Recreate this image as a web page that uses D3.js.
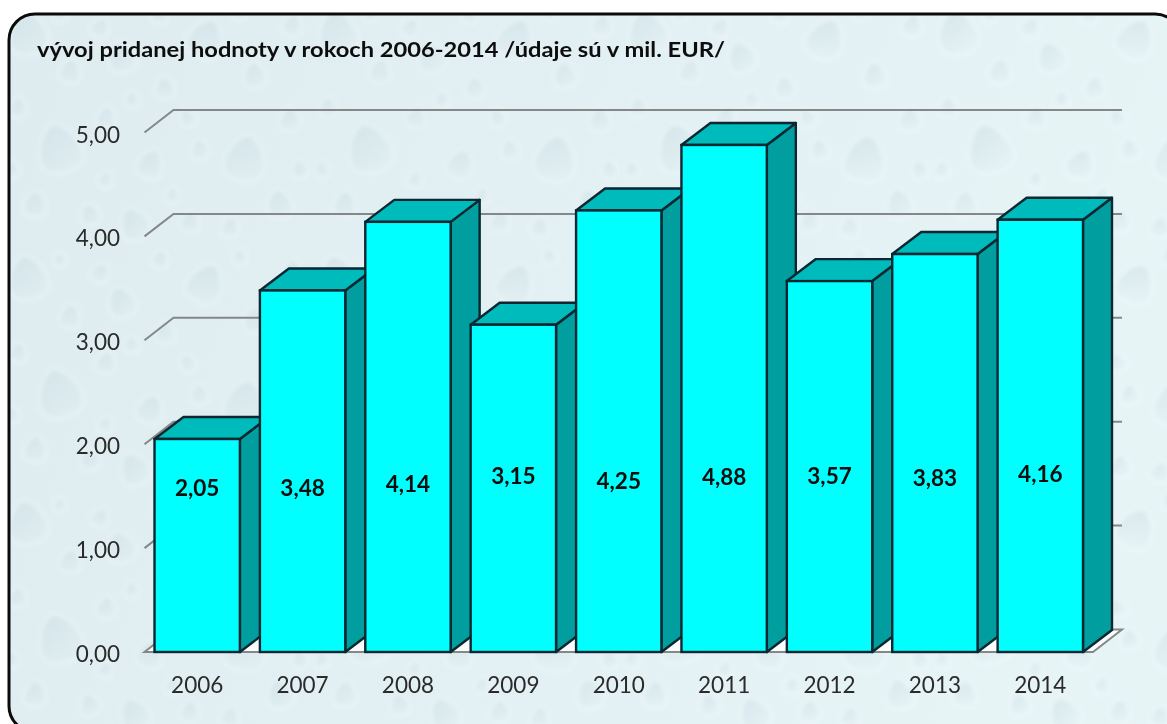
<!DOCTYPE html>
<html>
<head>
<meta charset="utf-8">
<script src="https://cdn.jsdelivr.net/npm/d3@7"></script>
<style>
html,body{margin:0;padding:0;background:#fff;overflow:hidden}
svg{display:block}
text{font-family:Lato,"Open Sans",sans-serif}
</style>
</head>
<body>
<svg id="c" width="1167" height="724"></svg>
<script>
const years = ["2006","2007","2008","2009","2010","2011","2012","2013","2014"];
const values = [2.05,3.48,4.14,3.15,4.25,4.88,3.57,3.83,4.16];
const valueLabels = ["2,05","3,48","4,14","3,15","4,25","4,88","3,57","3,83","4,16"];
const yTicks = [0,1,2,3,4,5];
const titleText = "vývoj pridanej hodnoty v rokoch 2006-2014 /údaje sú v mil. EUR/";
// Hand-placed label heights, as in the source chart (value-axis units)
const labelLevels = [1.58,1.58,1.62,1.69,1.65,1.68,1.69,1.67,1.71];
// Decorative water-drop texture: [x, y, size, lean]
const drops = [[28,34,24,-12],[70,72,13,10],[100,28,11,30],[122,58,17,-20],[165,88,12,0],[205,40,22,25],[255,76,14,-8],[292,26,12,14],
[18,108,11,5],[60,150,27,-15],[106,118,12,12],[132,100,9,0],[150,165,16,20],[188,118,10,-30],[200,150,11,-6],[245,160,25,10],[290,120,13,0],
[35,205,14,8],[90,215,12,-10],[135,225,18,-25],[172,196,9,10],[190,222,12,6],[230,228,11,15],[280,205,16,-12],[12,170,9,0],[105,180,9,20],[300,170,10,-15],[60,15,8,0],[160,15,10,15],[240,12,9,-10]];

const svg = d3.select("#c");
const defs = svg.append("defs");
const blur = defs.append("filter").attr("id","soft").attr("x","-20%").attr("y","-20%").attr("width","140%").attr("height","140%");
blur.append("feGaussianBlur").attr("stdDeviation",2);
const ink = defs.append("filter").attr("id","ink").attr("x","-5%").attr("y","-20%").attr("width","110%").attr("height","140%");
ink.append("feGaussianBlur").attr("stdDeviation",0.4);
const grad = defs.append("linearGradient").attr("id","bg").attr("x1",0).attr("y1",0).attr("x2",1).attr("y2",0.2);
grad.append("stop").attr("offset",0).attr("stop-color","#deecf0");
grad.append("stop").attr("offset",1).attr("stop-color","#e7f4f6");
const dropGrad = defs.append("linearGradient").attr("id","drop").attr("x1",0).attr("y1",0).attr("x2",0.4).attr("y2",1);
dropGrad.append("stop").attr("offset",0).attr("stop-color","#c8dbe1").attr("stop-opacity",0.6);
dropGrad.append("stop").attr("offset",1).attr("stop-color","#d2e3e8").attr("stop-opacity",0.1);
const pat = defs.append("pattern").attr("id","drops").attr("patternUnits","userSpaceOnUse")
  .attr("width",310).attr("height",245);
const dropG = pat.append("g").attr("filter","url(#soft)");
const dropPath = s => `M0,${-s} C${s*.6},${-s*.8} ${s*.9},${s*.1} ${s*.8},${s*.4} C${s*.7},${s} ${-s*.7},${s} ${-s*.8},${s*.4} C${-s*.9},${s*.1} ${-s*.6},${-s*.8} 0,${-s}Z`;
dropG.selectAll("path").data(drops).join("path")
  .attr("d",d=>dropPath(d[2]))
  .attr("transform",d=>`translate(${d[0]},${d[1]}) rotate(${d[3]})`)
  .attr("fill","url(#drop)")
  .attr("stroke","#f4fbfc").attr("stroke-opacity",0.8).attr("stroke-width",1.5);

// Background and frame
const frame = svg.append("g");
const frameRect = () => frame.append("rect").attr("x",9).attr("y",14).attr("width",1172).attr("height",718).attr("rx",26);
frameRect().attr("fill","url(#bg)");
frameRect().attr("fill","url(#drops)");
frameRect().attr("fill","none").attr("stroke","#0b0b0b").attr("stroke-width",3);

// Scales
const y = d3.scaleLinear().domain([0,5]).range([652,132.5]);
const x = d3.scaleBand().domain(years).range([144.5,1093]).paddingInner(0.19).paddingOuter(0.095);
const wallDx = 29, wallDy = 22.5, barDx = 29, barDy = 22;
const plotL = x.range()[0], plotR = x.range()[1];

// Floor
const chart = svg.append("g").attr("filter","url(#ink)");
const grey = "#858889";
chart.append("path")
  .attr("d",`M${plotL},${y(0)}L${plotR},${y(0)}L${plotR+wallDx},${y(0)-wallDy}L${plotL+wallDx},${y(0)-wallDy}Z`)
  .attr("fill","#fbfdfd").attr("stroke",grey).attr("stroke-width",2);

// Gridlines (slant along the side wall, then run across the back wall)
chart.append("g").selectAll("path").data(yTicks.slice(1)).join("path")
  .attr("d",d=>`M${plotL},${y(d)}L${plotL+wallDx},${y(d)-wallDy}L${plotR+wallDx},${y(d)-wallDy}`)
  .attr("fill","none").attr("stroke",grey).attr("stroke-width",2);

// Bars
const edge = "#082831";
const bars = chart.append("g").selectAll("g").data(years.map((yr,i)=>({yr,v:values[i]}))).join("g");
bars.append("path").attr("fill","#009e9e").attr("stroke",edge).attr("stroke-width",2.4).attr("stroke-linejoin","round")
  .attr("d",d=>{const r=x(d.yr)+x.bandwidth();return `M${r},${y(d.v)}L${r+barDx},${y(d.v)-barDy}L${r+barDx},${y(0)-barDy}L${r},${y(0)}Z`;});
bars.append("path").attr("fill","#00bbbb").attr("stroke",edge).attr("stroke-width",2.4).attr("stroke-linejoin","round")
  .attr("d",d=>{const l=x(d.yr),r=l+x.bandwidth();return `M${l},${y(d.v)}L${l+barDx},${y(d.v)-barDy}L${r+barDx},${y(d.v)-barDy}L${r},${y(d.v)}Z`;});
bars.append("rect").attr("fill","#00ffff").attr("stroke",edge).attr("stroke-width",2.4)
  .attr("x",d=>x(d.yr)).attr("y",d=>y(d.v)).attr("width",x.bandwidth()).attr("height",d=>y(0)-y(d.v));

// Text
const texts = svg.append("g").attr("filter","url(#ink)");
texts.append("text").attr("x",37).attr("y",57).attr("font-size",21.5).attr("font-weight",700)
  .attr("fill","#0d0d0d").attr("textLength",688).attr("lengthAdjust","spacingAndGlyphs").text(titleText);
const f = d3.format(".2f");
texts.append("g").selectAll("text").data(yTicks).join("text")
  .attr("x",120).attr("y",d=>y(d)+10).attr("text-anchor","end").attr("font-size",22.5)
  .attr("fill","#2b2b2b").text(d=>f(d).replace(".",","));
texts.append("g").selectAll("text").data(years).join("text")
  .attr("x",d=>x(d)+x.bandwidth()/2).attr("y",693).attr("text-anchor","middle").attr("font-size",22.5)
  .attr("fill","#2b2b2b").text(d=>d);
texts.append("g").selectAll("text").data(years).join("text")
  .attr("x",d=>x(d)+x.bandwidth()/2).attr("y",(d,i)=>y(labelLevels[i])+8).attr("text-anchor","middle")
  .attr("font-size",22.5).attr("font-weight",700).attr("fill","#0a0a0a").text((d,i)=>valueLabels[i]);
</script>
</body>
</html>
